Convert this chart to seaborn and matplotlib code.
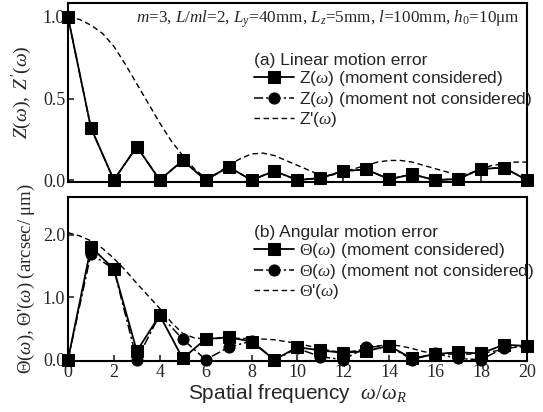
import numpy as np
import matplotlib
matplotlib.use("Agg")
import matplotlib.pyplot as plt
import seaborn as sns

# spatial frequency (integer harmonics) and a finer grid for the dashed curves
freq = np.arange(0, 21)
freq_fine = np.arange(0, 20.5, 0.5)

# (a) linear motion error
z_moment = [1.0, 0.32, 0.0, 0.205, 0.0, 0.12, 0.0, 0.08, 0.0, 0.055, 0.0,
            0.012, 0.055, 0.065, 0.005, 0.035, 0.0, 0.006, 0.068, 0.076, 0.0]
z_no_moment = [1.0, 0.32, 0.0, 0.205, 0.0, 0.12, 0.0, 0.08, 0.0, 0.055, 0.0,
               0.012, 0.055, 0.065, 0.005, 0.035, 0.0, 0.006, 0.068, 0.076, 0.0]
z_prime = [1.0, 0.985, 0.95, 0.9, 0.82, 0.71, 0.59, 0.47, 0.35, 0.24, 0.15,
           0.07, 0.01, 0.04, 0.09, 0.13, 0.16, 0.165, 0.15, 0.12, 0.09, 0.06,
           0.03, 0.03, 0.05, 0.07, 0.09, 0.11, 0.12, 0.12, 0.11, 0.09, 0.07,
           0.05, 0.03, 0.04, 0.07, 0.09, 0.10, 0.11, 0.11]

# (b) angular motion error
th_moment = [0.0, 1.8, 1.45, 0.14, 0.71, 0.02, 0.33, 0.36, 0.29, 0.0, 0.2,
             0.15, 0.11, 0.14, 0.22, 0.02, 0.09, 0.12, 0.1, 0.24, 0.22]
th_no_moment = [0.0, 1.69, 1.45, 0.0, 0.72, 0.33, 0.0, 0.2, 0.3, 0.0, 0.18,
                0.05, 0.0, 0.2, 0.22, 0.0, 0.1, 0.02, 0.0, 0.19, 0.22]
th_prime = [2.03, 1.98, 1.9, 1.78, 1.62, 1.43, 1.22, 1.02, 0.82, 0.6, 0.42,
            0.35, 0.33, 0.34, 0.35, 0.34, 0.34, 0.33, 0.32, 0.29, 0.26, 0.22,
            0.18, 0.14, 0.12, 0.14, 0.18, 0.22, 0.24, 0.22, 0.18, 0.13, 0.1,
            0.09, 0.09, 0.09, 0.1, 0.13, 0.17, 0.2, 0.21]

sns.set_style("ticks")
plt.rcParams['font.family'] = ['Liberation Serif', 'DejaVu Serif']
plt.rcParams['mathtext.fontset'] = 'custom'
plt.rcParams['mathtext.rm'] = 'Liberation Serif'
plt.rcParams['mathtext.it'] = 'Liberation Serif:italic'
plt.rcParams['mathtext.bf'] = 'Liberation Serif:bold'

sans = {'family': 'Liberation Sans', 'size': 12.5}
dashdot = (0, (6, 2, 1.5, 2))

fig = plt.figure(figsize=(5.43, 4.12), dpi=100)
ax1 = fig.add_axes([0.1252, 0.5583, 0.845, 0.4345])
ax2 = fig.add_axes([0.1252, 0.1238, 0.845, 0.398])


def draw(ax, y_sq, y_ci, y_pr, labels, title, leg_y):
    sns.lineplot(x=freq, y=y_ci, ax=ax, color='black', marker='o', markersize=8,
                 markeredgecolor='black', linestyle=dashdot, lw=1.1, label=labels[1],
                 clip_on=False, zorder=3)
    sns.lineplot(x=freq, y=y_sq, ax=ax, color='black', marker='s', markersize=8,
                 markeredgecolor='black', lw=1.3, label=labels[0], clip_on=False, zorder=4)
    sns.lineplot(x=freq_fine, y=y_pr, ax=ax, color='black', linestyle=(0, (4, 2.5)),
                 lw=1.0, label=labels[2], zorder=2)
    h, l = ax.get_legend_handles_labels()
    order = [1, 0, 2]
    ax.legend([h[i] for i in order], [l[i] for i in order], title=title,
              loc='upper left', bbox_to_anchor=(0.405, leg_y), frameon=False,
              prop=sans, title_fontproperties=sans, alignment='left',
              handlelength=2.3, handletextpad=0.3, labelspacing=0.08,
              borderaxespad=0, borderpad=0)
    ax.set_xlim(0, 20)
    ax.set_xticks(np.arange(0, 21, 2))
    ax.tick_params(direction='in', length=4, width=1.2, labelsize=13, pad=2)
    for s in ax.spines.values():
        s.set_linewidth(1.5)
        s.set_color('black')


draw(ax1, z_moment, z_no_moment, z_prime,
     [r'Z($\omega$) (moment considered)', r'Z($\omega$) (moment not considered)',
      r"Z'($\omega$)"], '(a) Linear motion error', 0.72)
draw(ax2, th_moment, th_no_moment, th_prime,
     [r'$\Theta$($\omega$) (moment considered)',
      r'$\Theta$($\omega$) (moment not considered)', r"$\Theta$'($\omega$)"],
     '(b) Angular motion error', 0.83)

ax1.set_ylim(-0.012, 1.086)
ax1.set_yticks([0.0, 0.5, 1.0])
ax1.set_yticklabels(['0.0', '0.5', '1.0'])
ax1.tick_params(labelbottom=False)
ax1.set_ylabel(r"$Z(\omega),\ Z'(\omega)$", fontsize=14, labelpad=6)
ax1.text(0.985, 0.91, r"$m$=3, $L/ml$=2, $L_y$=40mm, $L_z$=5mm, $l$=100mm, $h_0$=10μm",
         transform=ax1.transAxes, ha='right', va='center', fontsize=12.3)

ax2.set_ylim(-0.02, 2.6)
ax2.set_yticks([0.0, 1.0, 2.0])
ax2.set_yticklabels(['0.0', '1.0', '2.0'])
ax2.set_ylabel(r"$\Theta$($\omega$), $\Theta$'($\omega$) (arcsec/ μm)", fontsize=13.5,
               labelpad=4)
ax2.set_xlabel(r'Spatial frequency  $\omega/\omega_R$',
               fontdict={'family': 'Liberation Sans', 'size': 15}, labelpad=1)

fig.savefig('out.png', dpi=100)
